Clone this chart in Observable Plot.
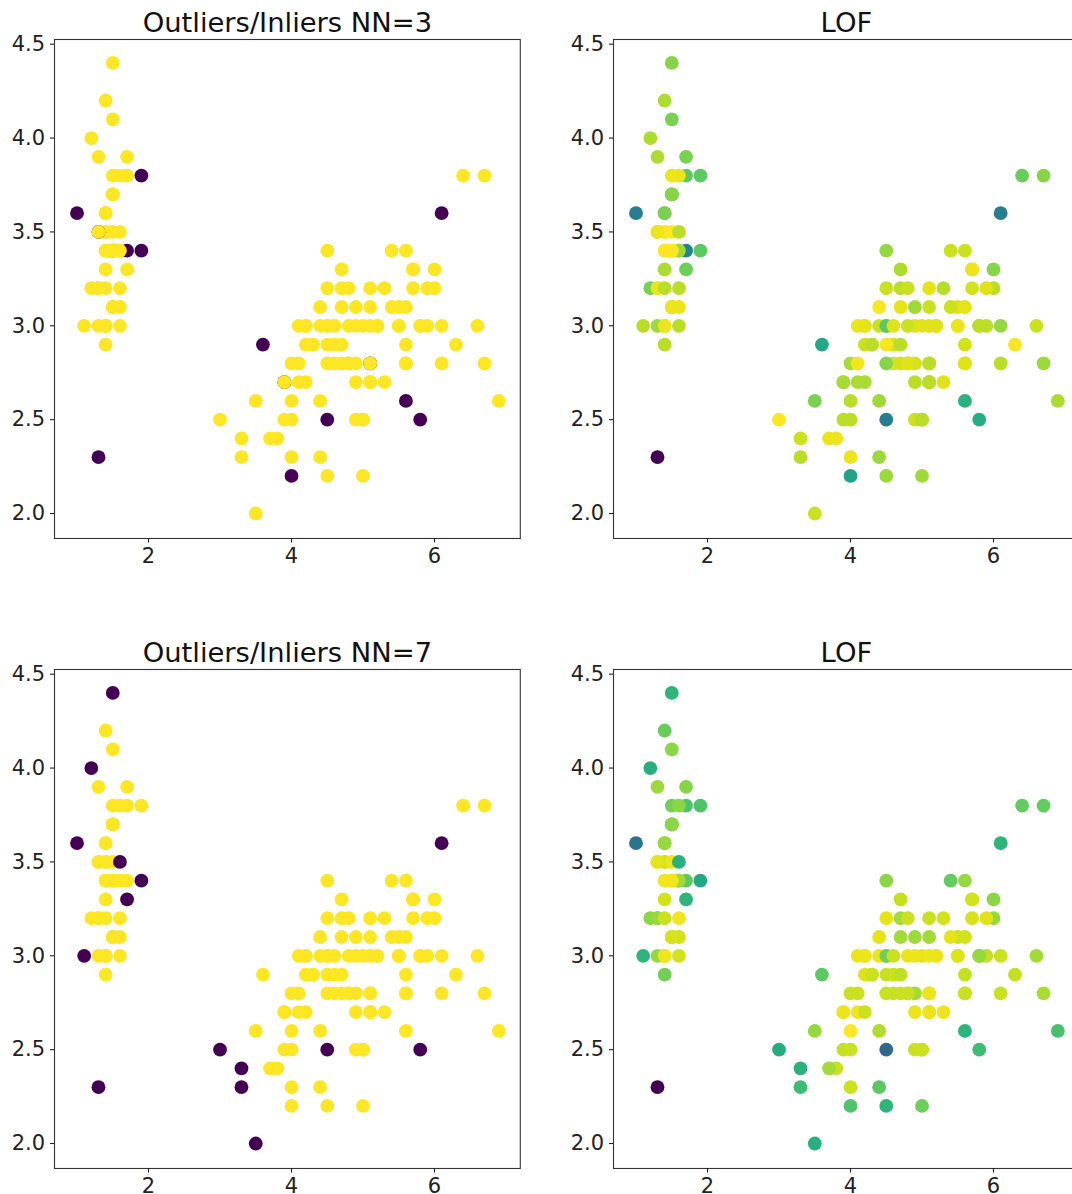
<!DOCTYPE html>
<html>
<head>
<meta charset="utf-8">
<script src="https://cdn.jsdelivr.net/npm/d3@7"></script>
<script src="https://cdn.jsdelivr.net/npm/@observablehq/plot@0.6"></script>
<style>
  body { margin: 0; background: #fff; }
  #fig { position: relative; width: 1072px; height: 1194px; overflow: hidden; background: #fff; }
  .panel { position: absolute; }
  .panel svg { max-width: none; display: block; }
</style>
</head>
<body>
<div id="fig"></div>
<script>
// Iris samples: petal length (x) against sepal width (y), in dataset order.
const petalLength = [
  1.4,1.4,1.3,1.5,1.4,1.7,1.4,1.5,1.4,1.5, 1.5,1.6,1.4,1.1,1.2,1.5,1.3,1.4,1.7,1.5,
  1.7,1.5,1.0,1.7,1.9,1.6,1.6,1.5,1.4,1.6, 1.6,1.5,1.5,1.4,1.5,1.2,1.3,1.4,1.3,1.5,
  1.3,1.3,1.3,1.6,1.9,1.4,1.6,1.4,1.5,1.4,
  4.7,4.5,4.9,4.0,4.6,4.5,4.7,3.3,4.6,3.9, 3.5,4.2,4.0,4.7,3.6,4.4,4.5,4.1,4.5,3.9,
  4.8,4.0,4.9,4.7,4.3,4.4,4.8,5.0,4.5,3.5, 3.8,3.7,3.9,5.1,4.5,4.5,4.7,4.4,4.1,4.0,
  4.4,4.6,4.0,3.3,4.2,4.2,4.2,4.3,3.0,4.1,
  6.0,5.1,5.9,5.6,5.8,6.6,4.5,6.3,5.8,6.1, 5.1,5.3,5.5,5.0,5.1,5.3,5.5,6.7,6.9,5.0,
  5.7,4.9,6.7,4.9,5.7,6.0,4.8,4.9,5.6,5.8, 6.1,6.4,5.6,5.1,5.6,6.1,5.6,5.5,4.8,5.4,
  5.6,5.1,5.1,5.9,5.7,5.2,5.0,5.2,5.4,5.1
];
const sepalWidth = [
  3.5,3.0,3.2,3.1,3.6,3.9,3.4,3.4,2.9,3.1, 3.7,3.4,3.0,3.0,4.0,4.4,3.9,3.5,3.8,3.8,
  3.4,3.7,3.6,3.3,3.4,3.0,3.4,3.5,3.4,3.2, 3.1,3.4,4.1,4.2,3.1,3.2,3.5,3.6,3.0,3.4,
  3.5,2.3,3.2,3.5,3.8,3.0,3.8,3.2,3.7,3.3,
  3.2,3.2,3.1,2.3,2.8,2.8,3.3,2.4,2.9,2.7, 2.0,3.0,2.2,2.9,2.9,3.1,3.0,2.7,2.2,2.5,
  3.2,2.8,2.5,2.8,2.9,3.0,2.8,3.0,2.9,2.6, 2.4,2.4,2.7,2.7,3.0,3.4,3.1,2.3,3.0,2.5,
  2.6,3.0,2.6,2.3,2.7,3.0,2.9,2.9,2.5,2.8,
  3.3,2.7,3.0,2.9,3.0,3.0,2.5,2.9,2.5,3.6, 3.2,2.7,3.0,2.5,2.8,3.2,3.0,3.8,2.6,2.2,
  3.2,2.8,2.8,2.7,3.3,3.2,2.8,3.0,2.8,3.0, 2.8,3.8,2.8,2.8,2.6,3.0,3.4,3.1,3.0,3.1,
  3.1,3.1,2.7,3.2,3.3,3.0,2.5,3.0,3.4,3.0
];

// Predicted labels (1 = inlier, -1 = outlier) with 3 neighbours.
const labelsNN3 = [
  1,1,1,1,1,1,1,-1,1,1, 1,1,1,1,1,1,1,1,1,1, -1,1,-1,1,-1,1,1,1,1,1,
  1,1,1,1,1,1,-1,1,1,1, 1,-1,1,1,-1,1,1,1,1,1,
  1,1,1,1,1,1,1,1,1,-1, 1,1,-1,1,-1,1,1,1,1,1, 1,1,1,1,1,1,1,1,1,1,
  1,1,1,1,1,1,1,1,1,1, 1,1,1,1,1,1,1,1,1,1,
  1,1,1,1,1,1,-1,1,-1,-1, 1,1,1,1,-1,1,1,1,1,1, 1,1,1,1,1,1,1,1,1,1,
  1,1,1,1,-1,1,1,1,1,1, 1,1,1,1,1,1,1,1,1,1
];
// Predicted labels with 7 neighbours.
const labelsNN7 = [
  1,1,1,1,1,1,1,1,1,1, 1,1,1,-1,-1,-1,1,1,1,1, 1,1,-1,-1,-1,1,1,1,1,1,
  1,1,1,1,1,1,1,1,1,1, 1,-1,1,-1,1,1,1,1,1,1,
  1,1,1,1,1,1,1,-1,1,1, -1,1,1,1,1,1,1,1,1,1, 1,1,1,1,1,1,1,1,1,1,
  1,1,1,1,1,1,1,1,1,1, 1,1,1,-1,1,1,1,1,-1,1,
  1,1,1,1,1,1,-1,1,-1,-1, 1,1,1,1,1,1,1,1,1,1, 1,1,1,1,1,1,1,1,1,1,
  1,1,1,1,1,1,1,1,1,1, 1,1,1,1,1,1,1,1,1,1
];

// Local outlier factor per sample (higher = more isolated), 3 neighbours.
const lofNN3 = [
  0.95,1.04,1.04,1.04,1.56,1.56,1.04,0.95,1.26,1.04, 1.50,1.26,1.04,1.26,1.32,1.50,1.32,0.95,1.71,1.04,
  2.63,1.50,2.72,1.62,1.71,1.26,1.41,0.95,0.95,1.26, 1.04,0.95,1.56,1.32,1.04,1.56,1.19,1.56,1.41,0.95,
  1.04,4.00,1.04,1.26,1.71,1.04,1.04,1.26,1.50,1.32,
  1.26,1.19,1.38,1.04,1.10,1.50,1.32,1.19,1.16,1.35, 1.19,1.07,2.23,1.26,2.17,0.98,1.41,1.32,1.41,1.26,
  1.19,1.35,1.19,1.16,1.26,1.19,1.10,1.10,0.98,1.56, 1.04,1.04,1.35,1.26,1.71,1.44,1.07,1.41,1.04,1.26,
  1.38,1.10,1.26,1.26,1.35,1.07,1.19,1.26,0.95,1.01,
  1.50,1.26,1.26,1.16,1.19,1.19,2.72,0.98,2.11,2.72, 1.07,1.10,1.04,1.26,1.26,1.29,1.04,1.50,1.32,1.38,
  1.16,1.16,1.41,1.26,1.04,1.26,1.10,1.10,1.10,1.26, 1.26,1.65,1.10,1.26,2.05,1.44,1.19,1.10,1.19,1.19,
  1.07,1.19,1.26,1.10,1.04,1.10,1.26,1.10,1.19,1.10
];
// Local outlier factor per sample, 7 neighbours.
const lofNN7 = [
  1.11,1.01,1.29,1.09,1.29,1.34,1.01,1.01,1.40,1.09, 1.32,1.27,1.01,1.68,1.72,1.68,1.27,1.11,1.54,1.40,
  1.48,1.32,2.23,1.68,1.78,1.11,1.27,1.03,1.01,1.01, 1.11,1.01,1.32,1.44,1.09,1.32,1.05,1.29,1.29,1.01,
  1.05,3.00,1.29,1.70,1.54,1.01,1.32,1.13,1.32,1.11,
  1.25,1.05,1.27,1.13,1.13,1.13,1.15,1.70,1.13,1.03, 1.72,1.03,1.54,1.17,1.48,1.05,1.07,1.01,1.68,1.15,
  1.13,1.13,1.13,1.13,1.13,1.03,1.13,1.05,1.13,1.29, 1.13,1.25,1.03,1.03,1.42,1.32,1.25,1.48,1.03,1.13,
  1.21,1.13,0.97,1.60,1.13,1.03,1.07,1.13,1.76,1.13,
  1.32,1.03,1.15,1.15,1.32,1.25,2.33,1.15,1.60,1.68, 1.13,1.03,1.07,1.13,1.03,1.11,1.07,1.46,1.56,1.42,
  1.09,1.25,1.23,1.03,1.11,1.29,1.13,1.03,1.13,1.29, 1.13,1.46,1.13,1.03,1.68,1.13,1.29,1.13,1.03,1.05,
  1.11,1.25,1.03,1.07,1.11,1.03,1.13,1.03,1.46,1.03
];

const xTicks = [2, 4, 6];
const yTicks = [2.0, 2.5, 3.0, 3.5, 4.0, 4.5];

const FRAME_W = 465.8, FRAME_H = 499;
const M = {left: 70, right: 20, top: 60, bottom: 50};
const fig = document.getElementById("fig");

function panel({title, values, reverse, frameLeft, frameTop}) {
  const rows = petalLength.map((x, i) => ({x, y: sepalWidth[i], v: values[i]}));
  const chart = Plot.plot({
    width: M.left + FRAME_W + M.right,
    height: M.top + FRAME_H + M.bottom,
    marginLeft: M.left, marginRight: M.right, marginTop: M.top, marginBottom: M.bottom,
    style: {fontFamily: "'DejaVu Sans', sans-serif", fontSize: "21px", color: "#222",
            background: "transparent", overflow: "visible", maxWidth: "none"},
    x: {domain: [0.685, 7.2]},
    y: {domain: [1.867, 4.525]},
    color: {type: "linear", scheme: "viridis", reverse},
    marks: [
      Plot.dot(rows, {x: "x", y: "y", fill: "v", r: 6.9, stroke: null}),
      Plot.frame({stroke: "#333", strokeWidth: 1.1}),
      Plot.axisX({ticks: xTicks, tickFormat: d => String(d), tickSize: 4.5, tickPadding: 5.5,
                  fontSize: 21, label: null, strokeWidth: 1.1}),
      Plot.axisY({ticks: yTicks, tickFormat: d3.format(".1f"), tickSize: 4, tickPadding: 5.5,
                  fontSize: 21, label: null, strokeWidth: 1.1}),
      Plot.text([title], {frameAnchor: "top", dy: -7.6, lineAnchor: "bottom",
                          fontSize: 27.4, fill: "#111"})
    ]
  });
  const wrap = document.createElement("div");
  wrap.className = "panel";
  wrap.style.left = (frameLeft - M.left) + "px";
  wrap.style.top = (frameTop - M.top) + "px";
  wrap.appendChild(chart);
  fig.appendChild(wrap);
}

panel({title: "Outliers/Inliers NN=3", values: labelsNN3, reverse: false, frameLeft: 54.3, frameTop: 39.3});
panel({title: "LOF", values: lofNN3, reverse: true, frameLeft: 613.3, frameTop: 39.3});
panel({title: "Outliers/Inliers NN=7", values: labelsNN7, reverse: false, frameLeft: 54.3, frameTop: 669.3});
panel({title: "LOF", values: lofNN7, reverse: true, frameLeft: 613.3, frameTop: 669.3});
</script>
</body>
</html>
